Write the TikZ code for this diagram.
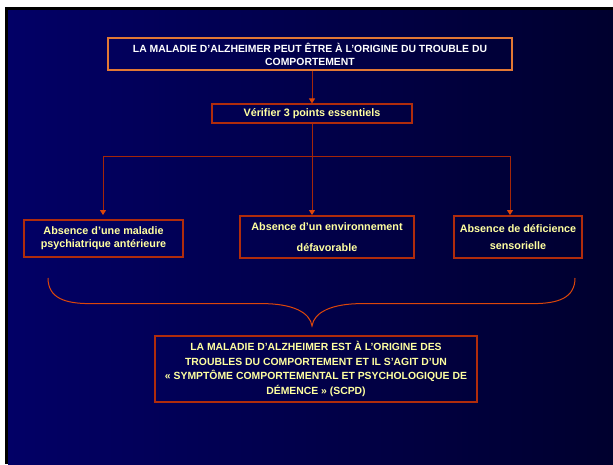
\documentclass[tikz,border=0pt]{standalone}
\usepackage{fontspec}
\setmainfont{Liberation Sans}
\usetikzlibrary{arrows.meta}
\definecolor{bgleft}{RGB}{2,0,102}
\definecolor{bgright}{RGB}{0,0,46}
\definecolor{frameorange}{RGB}{226,120,52}
\definecolor{framered}{RGB}{176,44,12}
\definecolor{linkred}{RGB}{165,38,8}
\definecolor{tipred}{RGB}{220,70,10}
\definecolor{paleyellow}{RGB}{255,255,160}
\tikzset{
  x=1pt, y=-1pt,
  box/.style={draw=framered, line width=1.1pt, inner sep=0pt, align=center,
    text=paleyellow, font=\fontsize{10.4}{13}\selectfont\bfseries},
  lowbox/.style={box, font=\fontsize{10.8}{#1}\selectfont\bfseries},
  link/.style={draw=linkred, line width=1pt},
  arrowlink/.style={link, -{Triangle[width=6pt,length=5pt,color=tipred]}},
  bracket/.style={draw=tipred, line width=1pt}
}
\begin{document}
\begin{tikzpicture}
  % slide background with shadow edge
  \useasboundingbox (0,0) rectangle (613,464);
  \fill[white] (0,0) rectangle (613,464);
  \fill[black] (5,7) rectangle (613,464);
  \shade[left color=bgleft, right color=bgright] (8,10) rectangle (613,464);

  % boxes
  \node[box, draw=frameorange, text=white, minimum width=404pt, minimum height=32pt]
    (top) at (310,54) {LA MALADIE D’ALZHEIMER PEUT ÊTRE À L’ORIGINE DU TROUBLE DU\\COMPORTEMENT};
  \node[lowbox=13, minimum width=200pt, minimum height=19pt]
    (check) at (312,113.5) {Vérifier 3 points essentiels};
  \node[lowbox=13, minimum width=159pt, minimum height=37pt]
    (psy) at (103.5,238.5) {Absence d’une maladie\\psychiatrique antérieure};
  \node[lowbox=21, minimum width=174pt, minimum height=42pt]
    (env) at (327,237) {Absence d’un environnement\\défavorable};
  \node[lowbox=16.5, minimum width=128pt, minimum height=42pt]
    (sens) at (518,237) {Absence de déficience\\sensorielle};
  \node[box, minimum width=322pt, minimum height=66pt,
        font=\fontsize{10.4}{14.5}\selectfont\bfseries]
    (scpd) at (316,369) {LA MALADIE D’ALZHEIMER EST À L’ORIGINE DES\\TROUBLES DU COMPORTEMENT ET IL S’AGIT D’UN\\« SYMPTÔME COMPORTEMENTAL ET PSYCHOLOGIQUE DE\\DÉMENCE » (SCPD)};

  % branch points and arrow ends
  \coordinate (hub) at (312,156);
  \coordinate (hubL) at (103,156);
  \coordinate (hubR) at (510,156);
  \coordinate (endL) at (103,215);
  \coordinate (endM) at (312,215);
  \coordinate (endR) at (510,215);

  \draw[arrowlink] (312,70.5) -- (check.north);
  \draw[link] (check.south) -- (hub);
  \draw[link] (hubL) -- (hubR);
  \draw[arrowlink] (hubL) -- (endL);
  \draw[arrowlink] (hub) -- (endM);
  \draw[arrowlink] (hubR) -- (endR);

  % closing brace over the three boxes
  \coordinate (braceL) at (48,278);
  \coordinate (braceR) at (575,278);
  \coordinate (braceTip) at (312,326);
  \draw[bracket] (braceL) .. controls (48,298) and (65,303.6) .. (90,303.6)
    -- (262,303.6) .. controls (292,303.6) and (310,312) .. (braceTip)
    .. controls (314,312) and (332,303.6) .. (362,303.6)
    -- (533,303.6) .. controls (558,303.6) and (575,298) .. (braceR);
\end{tikzpicture}
\end{document}
